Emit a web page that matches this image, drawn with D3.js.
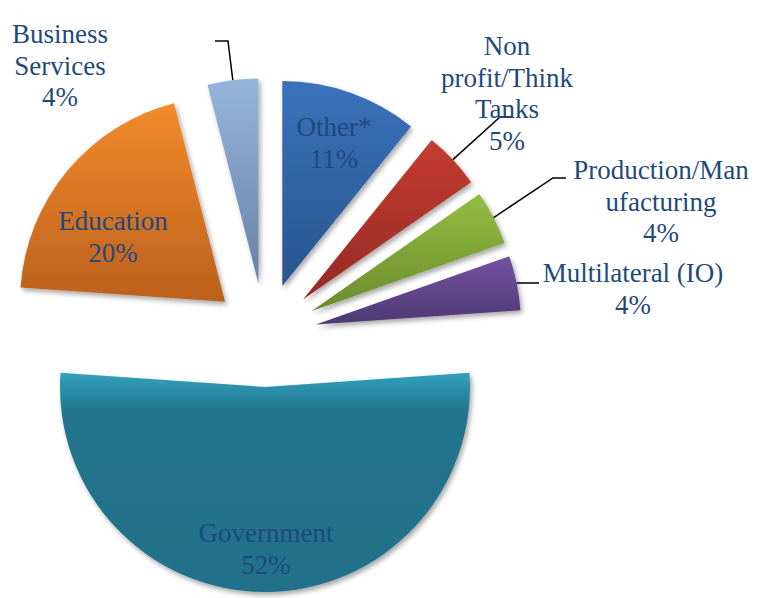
<!DOCTYPE html>
<html>
<head>
<meta charset="utf-8">
<script src="https://cdn.jsdelivr.net/npm/d3@7"></script>
<style>
  html, body { margin: 0; padding: 0; background: #fff; }
  svg { display: block; }
</style>
</head>
<body>
<svg id="chart" width="759" height="598"></svg>
<script>
// ---- data ----
const categories = ["Other*", "Non profit/Think Tanks", "Production/Manufacturing", "Multilateral (IO)", "Government", "Education", "Business Services"];
const values = [10.8, 4.5, 4.3, 4.3, 52.2, 19.9, 4.0];
const labelLines = [
  ["Other*", "11%"],
  ["Non", "profit/Think", "Tanks", "5%"],
  ["Production/Man", "ufacturing", "4%"],
  ["Multilateral (IO)", "4%"],
  ["Government", "52%"],
  ["Education", "20%"],
  ["Business", "Services", "4%"]
];

// ---- style / layout ----
const colors = [
  ["#3a73bb", "#28548f"],
  ["#c43c31", "#952a25"],
  ["#94bd43", "#6b8b2c"],
  ["#7353a0", "#4e3872"],
  ["#33a1be", "#22748c"],
  ["#f38b2c", "#bb601d"],
  ["#97b5db", "#6780a6"]
];
const cx = 265, cy = 335, R = 205, explode = 52;
const fontSize = 27, lineH = 31.5;
// label anchor: x = centre, y = first baseline
const labelLayout = [
  { x: 334, y: 136 },
  { x: 507, y: 55 },
  { x: 661, y: 179 },
  { x: 633, y: 282 },
  { x: 266, y: 542 },
  { x: 113, y: 230 },
  { x: 60,  y: 43 }
];
// leader line start points (near the label), null = no leader
const leaders = [
  null,
  [[512, 117], [500, 117]],
  [[566, 178], [553, 178]],
  [[539, 283], [522, 283]],
  null,
  null,
  [[215, 41], [228, 41]]
];

const svg = d3.select("#chart");
const defs = svg.append("defs");

const filter = defs.append("filter").attr("id", "shadow")
  .attr("x", "-20%").attr("y", "-20%").attr("width", "140%").attr("height", "140%");
filter.append("feDropShadow").attr("dx", 2).attr("dy", 3).attr("stdDeviation", 2.5)
  .attr("flood-color", "#000").attr("flood-opacity", 0.35);

colors.forEach((c, i) => {
  const g = defs.append("linearGradient").attr("id", "grad" + i)
    .attr("x1", 0).attr("y1", 0).attr("x2", 0).attr("y2", 1);
  if (i === 4) {
    g.append("stop").attr("offset", 0).attr("stop-color", c[0]);
    g.append("stop").attr("offset", 0.18).attr("stop-color", c[1]);
    g.append("stop").attr("offset", 1).attr("stop-color", "#21718a");
  } else {
    g.append("stop").attr("offset", 0).attr("stop-color", c[0]);
    g.append("stop").attr("offset", 1).attr("stop-color", c[1]);
  }
});

const pie = d3.pie().sort(null).value(d => d).startAngle(0).endAngle(2 * Math.PI);
const arcs = pie(values);
const arc = d3.arc().innerRadius(0).outerRadius(R);

const slices = svg.append("g").attr("transform", `translate(${cx},${cy})`);

arcs.forEach((a, i) => {
  const mid = (a.startAngle + a.endAngle) / 2;
  const ox = explode * Math.sin(mid), oy = -explode * Math.cos(mid);
  slices.append("path")
    .attr("d", arc(a))
    .attr("transform", `translate(${ox},${oy})`)
    .attr("fill", `url(#grad${i})`)
    .attr("filter", "url(#shadow)");
});

// leader lines
const leaderG = svg.append("g");
arcs.forEach((a, i) => {
  if (!leaders[i]) return;
  const mid = (a.startAngle + a.endAngle) / 2;
  const ex = cx + (explode + R) * Math.sin(mid);
  const ey = cy - (explode + R) * Math.cos(mid);
  const pts = leaders[i].concat([[ex, ey]]);
  leaderG.append("path")
    .attr("d", d3.line()(pts))
    .attr("fill", "none")
    .attr("stroke", "#000")
    .attr("stroke-width", 1.5);
});

// labels
const labelG = svg.append("g")
  .attr("font-family", "'Liberation Serif', 'Times New Roman', serif")
  .attr("font-size", fontSize)
  .attr("fill", "#1f497d")
  .attr("text-anchor", "middle");
labelLines.forEach((lines, i) => {
  const t = labelG.append("text")
    .attr("x", labelLayout[i].x)
    .attr("y", labelLayout[i].y);
  lines.forEach((ln, j) => {
    t.append("tspan")
      .attr("x", labelLayout[i].x)
      .attr("y", labelLayout[i].y + j * lineH)
      .text(ln);
  });
});
</script>
</body>
</html>
